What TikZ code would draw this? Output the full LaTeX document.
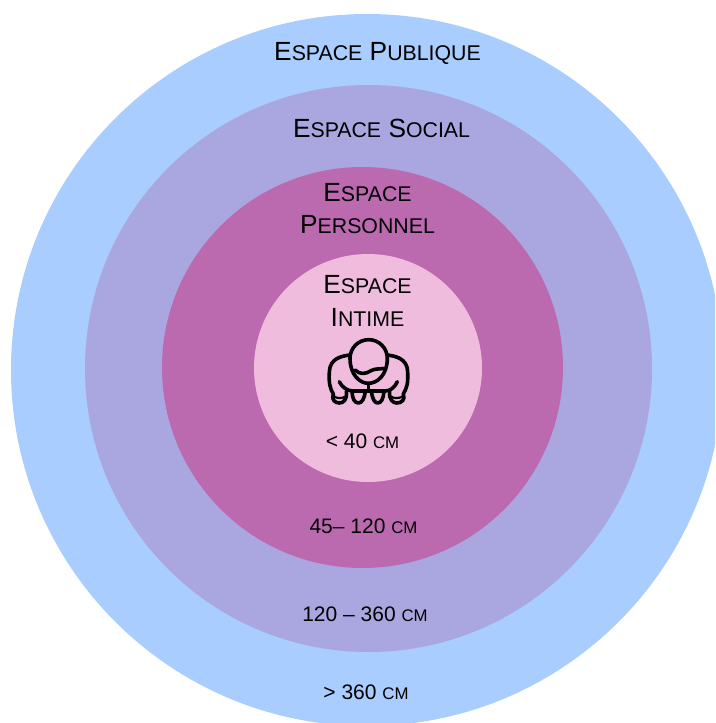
\documentclass[tikz,border=0pt]{standalone}
\usepackage{fontspec}
\setmainfont{Liberation Sans}
\newcommand{\bigc}[1]{{\fontsize{26.3}{28}\selectfont #1}}
\newcommand{\smc}[1]{{\fontsize{21.3}{28}\selectfont #1}}
\newcommand{\unitc}{{\fontsize{16.8}{20}\selectfont CM}}
\tikzset{
  x=1pt,y=-1pt,
  zone/.style={circle,inner sep=0pt,outer sep=0pt,minimum size=#1},
  title/.style={inner sep=0pt,align=center,text=black},
  dist/.style={inner sep=0pt,text=black,font=\fontsize{21}{24}\selectfont},
  icon/.style={line width=3.6pt,line cap=round,line join=round,draw=black},
}
\definecolor{pub}{HTML}{A8CDFE}
\definecolor{soc}{HTML}{AAA6E0}
\definecolor{per}{HTML}{BC6AB0}
\definecolor{inti}{HTML}{F0BCDE}
\begin{document}
\begin{tikzpicture}
\useasboundingbox (0,0) rectangle (715,723);
\begin{scope}
\clip (0,0) rectangle (715,723);
\node[zone=712pt,fill=pub] (publique) at (367,370) {};
\node[zone=567pt,fill=soc] (social) at (368.5,368.5) {};
\node[zone=401pt,fill=per] (personnel) at (362.5,367.5) {};
\node[zone=228pt,fill=inti] (intime) at (368,368) {};
\end{scope}
\node[title] (tpub) at (377.5,53) {\bigc{E}\smc{SPACE}\bigc{ }\bigc{P}\smc{UBLIQUE}};
\node[title] (tsoc) at (381.5,128) {\bigc{E}\smc{SPACE}\bigc{ }\bigc{S}\smc{OCIAL}};
\node[title] (tper1) at (367.5,192.5) {\bigc{E}\smc{SPACE}};
\node[title] (tper2) at (367.5,224.5) {\bigc{P}\smc{ERSONNEL}};
\node[title] (tint1) at (367.5,285) {\bigc{E}\smc{SPACE}};
\node[title] (tint2) at (367.5,317) {\bigc{I}\smc{NTIME}};
\node[dist] (d1) at (362.5,441) {< 40 \unitc};
\node[dist] (d2) at (363.5,526) {45– 120 \unitc};
\node[dist] (d3) at (365,614) {120 – 360 \unitc};
\node[dist] (d4) at (366,692) {> 360 \unitc};
\begin{scope}[shift={(300,320)},x=0.3333pt,y=-0.3333pt]
\draw[icon] (150,115) arc[start angle=180,end angle=360,radius=56];
\draw[icon] (150,115) .. controls (150,165) and (180,190) .. (205,190) .. controls (232,190) and (262,165) .. (262,115);
\draw[icon] (165,150) .. controls (180,165) and (198,162) .. (213,152) .. controls (225,145) and (240,148) .. (250,145);
\draw[icon] (205,190) -- (205,213);
\draw[icon] (150,105) .. controls (125,108) and (90,115) .. (88,155) .. controls (86,190) and (90,205) .. (100,222);
\draw[icon] (262,105) .. controls (285,108) and (322,115) .. (323,155) .. controls (325,190) and (320,205) .. (310,222);
\draw[icon] (118,185) .. controls (128,205) and (145,213) .. (160,213) .. controls (175,213) and (195,213) .. (205,213) .. controls (220,213) and (240,213) .. (255,213) .. controls (270,213) and (282,205) .. (292,185);
\draw[icon] (100,222) .. controls (93,240) and (106,249) .. (118,249) .. controls (130,249) and (142,240) .. (139,214);
\draw[icon] (156,215) .. controls (157,236) and (164,249) .. (175,249) .. controls (186,249) and (193,236) .. (196,215);
\draw[icon] (214,215) .. controls (217,236) and (224,249) .. (233,249) .. controls (244,249) and (250,236) .. (252,215);
\draw[icon] (269,214) .. controls (266,240) and (280,249) .. (290,249) .. controls (304,249) and (317,240) .. (310,222);
\draw[icon,line width=2.2pt] (101,229) .. controls (112,236) and (127,236) .. (138,229);
\draw[icon,line width=2.2pt] (271,229) .. controls (282,236) and (297,236) .. (309,229);
\end{scope}
\end{tikzpicture}
\end{document}
